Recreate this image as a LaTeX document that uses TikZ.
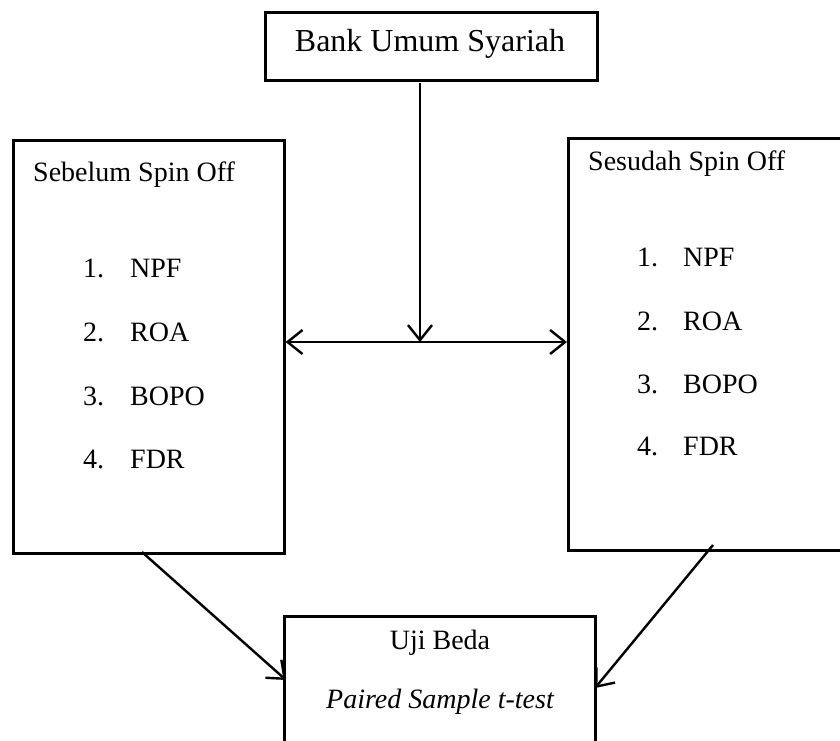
\documentclass[tikz,border=0pt]{standalone}
\usepackage{fontspec}
\setmainfont{Liberation Serif}
\usetikzlibrary{arrows.meta}
\tikzset{
  box/.style={draw, line width=2.6pt, rectangle, inner sep=0pt, anchor=north west},
  arr/.style={line width=2.4pt, -{Straight Barb[length=15pt,width=24pt,line width=2.4pt]}},
  lbl/.style={inner sep=0pt, font=\fontsize{28}{32}\selectfont},
  big/.style={inner sep=0pt, font=\fontsize{32}{36}\selectfont},
}
\begin{document}
\begin{tikzpicture}[x=1pt,y=-1pt]
\clip (0,0) rectangle (840,740);
\fill[white] (0,0) rectangle (840,740);
% boxes
\node[box, minimum width=332pt, minimum height=68pt] (top) at (264,11) {};
\node[box, minimum width=271pt, minimum height=413pt] (left) at (12,139) {};
\node[box, minimum width=293pt, minimum height=412pt] (right) at (567,137) {};
\node[box, minimum width=311pt, minimum height=170pt] (bottom) at (283,615) {};
% texts
\node[big] (toptext) at (430,44) {Bank Umum Syariah};
\node[lbl, anchor=west] (lt) at (33,175) {Sebelum Spin Off};
\node[lbl, anchor=west] (rt) at (588,164) {Sesudah Spin Off};
\node[lbl, anchor=west] (l1n) at (83,268) {1.};
\node[lbl, anchor=west] (l1) at (130,268) {NPF};
\node[lbl, anchor=west] (l2n) at (83,332) {2.};
\node[lbl, anchor=west] (l2) at (130,332) {ROA};
\node[lbl, anchor=west] (l3n) at (83,396) {3.};
\node[lbl, anchor=west] (l3) at (130,396) {BOPO};
\node[lbl, anchor=west] (l4n) at (83,459) {4.};
\node[lbl, anchor=west] (l4) at (130,459) {FDR};
\node[lbl, anchor=west] (r1n) at (637,257) {1.};
\node[lbl, anchor=west] (r1) at (683,257) {NPF};
\node[lbl, anchor=west] (r2n) at (637,321) {2.};
\node[lbl, anchor=west] (r2) at (683,321) {ROA};
\node[lbl, anchor=west] (r3n) at (637,384) {3.};
\node[lbl, anchor=west] (r3) at (683,384) {BOPO};
\node[lbl, anchor=west] (r4n) at (637,446) {4.};
\node[lbl, anchor=west] (r4) at (683,446) {FDR};
\node[lbl] (b1) at (440,643) {Uji Beda};
\node[lbl] (b2) at (440,702) {\itshape Paired Sample t-test};
% connectors
\coordinate (vs) at (420,83);
\coordinate (mid) at (420,342);
\coordinate (ls) at (142,552);
\coordinate (le) at (286,680);
\coordinate (rs) at (713,545);
\coordinate (re) at (595,688);
\draw[arr] (vs) -- (mid);
\draw[arr] (mid) -- (left.east |- mid);
\draw[arr] (mid) -- (right.west |- mid);
\draw[arr] (ls) -- (le);
\draw[arr] (rs) -- (re);
\end{tikzpicture}
\end{document}
